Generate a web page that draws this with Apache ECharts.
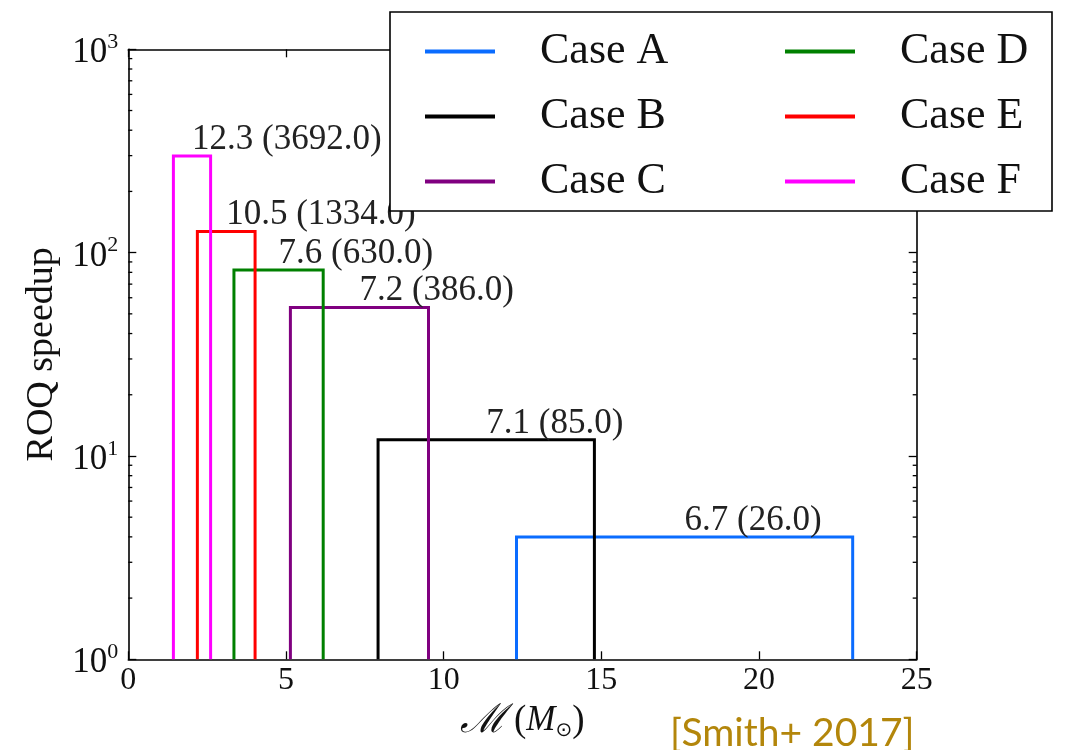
<!DOCTYPE html>
<html>
<head>
<meta charset="utf-8">
<script src="https://cdn.jsdelivr.net/npm/echarts@6/dist/echarts.min.js"></script>
<style>
html,body{margin:0;padding:0;background:#fff;}
#chart{width:1066px;height:750px;}
</style>
</head>
<body>
<div id="chart"></div>
<script>
// ---- data ----
const caseNames = ['Case A', 'Case B', 'Case C', 'Case D', 'Case E', 'Case F'];
const caseColors = ['#0a6cff', '#000000', '#800080', '#008000', '#ff0000', '#ff00ff'];
const chirpMin = [12.31, 7.92, 5.14, 3.35, 2.19, 1.43];
const chirpMax = [22.97, 14.78, 9.52, 6.18, 4.02, 2.61];
const speedup = [4.0, 12.0, 53.7, 82.2, 126.9, 299];
const speedupLabels = ['6.7 (26.0)', '7.1 (85.0)', '7.2 (386.0)', '7.6 (630.0)', '10.5 (1334.0)', '12.3 (3692.0)'];
const xTicks = [0, 5, 10, 15, 20, 25];
const yDecades = [1, 10, 100, 1000];

const xMin = 0, xMax = 25, yMin = 1, yMax = 1000;
const serif = 'Liberation Serif';

// minor ticks for log axis (2..9 in each decade)
const minorTickValues = [];
for (let d = 0; d < yDecades.length - 1; d++) {
  for (let k = 2; k <= 9; k++) minorTickValues.push(k * yDecades[d]);
}

const chart = echarts.init(document.getElementById('chart'), null, {renderer: 'canvas'});

const boxSeries = caseNames.map((name, i) => ({
  name: name,
  type: 'line',
  xAxisIndex: 0,
  yAxisIndex: 0,
  symbol: 'none',
  silent: true,
  animation: false,
  color: caseColors[i],
  lineStyle: {color: caseColors[i], width: 3, join: 'miter'},
  data: [[chirpMin[i], yMin], [chirpMin[i], speedup[i]], [chirpMax[i], speedup[i]], [chirpMax[i], yMin]],
  z: 3
}));

const labelSeries = {
  name: 'labels',
  type: 'scatter',
  symbolSize: 0,
  silent: true,
  animation: false,
  itemStyle: {opacity: 1},
  data: caseNames.map((n, i) => [(chirpMin[i] + chirpMax[i]) / 2, speedup[i], speedupLabels[i]]),
  label: {
    show: true,
    position: [0, 0],
    align: 'left',
    verticalAlign: 'bottom',
    formatter: p => p.data[2],
    fontFamily: serif,
    fontSize: 35,
    lineHeight: 35,
    color: '#222',
    opacity: 1,
    offset: [0, 1]
  },
  z: 4
};

const minorTickSeries = {
  name: 'minorTicks',
  type: 'custom',
  silent: true,
  animation: false,
  data: minorTickValues.map(v => [xMin, v]),
  renderItem: function (params, api) {
    const v = api.value(1);
    const l = api.coord([xMin, v]);
    const r = api.coord([xMax, v]);
    const st = {stroke: '#000', lineWidth: 1.3};
    return {
      type: 'group',
      children: [
        {type: 'line', shape: {x1: l[0], y1: l[1], x2: l[0] + 4, y2: l[1]}, style: st},
        {type: 'line', shape: {x1: r[0], y1: r[1], x2: r[0] - 4, y2: r[1]}, style: st}
      ]
    };
  },
  z: 5
};

const supDigits = v => Math.round(Math.log10(v));

const axisLineStyle = {color: '#000', width: 1.6};
const tickStyle = {show: true, inside: true, length: 8, lineStyle: {color: '#000', width: 1.3}};

const option = {
  animation: false,
  backgroundColor: '#fff',
  grid: {left: 128.3, right: 1066 - 916.7, top: 49.3, bottom: 750 - 659.3, containLabel: false},
  xAxis: [
    {
      type: 'value', position: 'bottom', min: xMin, max: xMax, interval: 5,
      axisLine: {show: true, onZero: false, lineStyle: axisLineStyle},
      axisTick: tickStyle,
      splitLine: {show: false},
      axisLabel: {fontFamily: serif, fontSize: 32, color: '#111', margin: 5},
      name: '{m|ℳ}{s| }{p|(}{i|M}{sub|⊙}{p|)}',
      nameLocation: 'middle',
      nameGap: 40,
      nameTextStyle: {
        rich: {
          m: {fontFamily: 'DejaVu Serif', fontSize: 40, fontStyle: 'italic', color: '#111'},
          s: {fontFamily: serif, fontSize: 30},
          p: {fontFamily: serif, fontSize: 37, color: '#111'},
          i: {fontFamily: serif, fontSize: 35, fontStyle: 'italic', color: '#111'},
          sub: {fontFamily: 'DejaVu Sans', fontSize: 20, color: '#111', verticalAlign: 'bottom', padding: [12, 0, 0, 0]}
        }
      }
    },
    {
      type: 'value', position: 'top', min: xMin, max: xMax, interval: 5,
      axisLine: {show: true, onZero: false, lineStyle: axisLineStyle},
      axisTick: tickStyle,
      splitLine: {show: false},
      axisLabel: {show: false}
    }
  ],
  yAxis: [
    {
      type: 'log', logBase: 10, min: yMin, max: yMax, position: 'left',
      axisLine: {show: true, onZero: false, lineStyle: axisLineStyle},
      axisTick: tickStyle,
      minorTick: {show: false},
      splitLine: {show: false},
      axisLabel: {
        margin: 10,
        formatter: v => '{n|10}{e|' + supDigits(v) + '}',
        rich: {
          n: {fontFamily: serif, fontSize: 35, lineHeight: 36, color: '#111', padding: [8, 0, 0, 0]},
          e: {fontFamily: serif, fontSize: 22, lineHeight: 22, color: '#111', verticalAlign: 'top'}
        }
      },
      name: 'ROQ speedup',
      nameLocation: 'middle',
      nameRotate: 90,
      nameGap: 64,
      nameTextStyle: {fontFamily: serif, fontSize: 38, color: '#111'}
    },
    {
      type: 'log', logBase: 10, min: yMin, max: yMax, position: 'right',
      axisLine: {show: true, onZero: false, lineStyle: axisLineStyle},
      axisTick: tickStyle,
      splitLine: {show: false},
      axisLabel: {show: false}
    }
  ],
  legend: [
    {
      data: caseNames.slice(0, 3),
      orient: 'vertical',
      left: 420, top: 24,
      itemWidth: 70, itemHeight: 4, itemGap: 20,
      icon: 'rect',
      selectedMode: false,
      textStyle: {fontFamily: serif, fontSize: 44, lineHeight: 45, color: '#111', padding: [0, 0, 0, 40]},
      z: 60
    },
    {
      data: caseNames.slice(3, 6),
      orient: 'vertical',
      left: 780, top: 24,
      itemWidth: 70, itemHeight: 4, itemGap: 20,
      icon: 'rect',
      selectedMode: false,
      textStyle: {fontFamily: serif, fontSize: 44, lineHeight: 45, color: '#111', padding: [0, 0, 0, 40]},
      z: 60
    }
  ],
  graphic: [
    {
      type: 'rect', z: 50, silent: true,
      shape: {x: 390, y: 12, width: 662, height: 199},
      style: {fill: '#fff', stroke: '#000', lineWidth: 1.6}
    },
    {
      type: 'text', z: 50, silent: true,
      left: 670, top: 714,
      style: {text: '[Smith+ 2017]', fontFamily: 'Lato', fontSize: 39, fill: '#b3860b'}
    }
  ],
  series: boxSeries.concat([labelSeries, minorTickSeries])
};

chart.setOption(option);
</script>
</body>
</html>
